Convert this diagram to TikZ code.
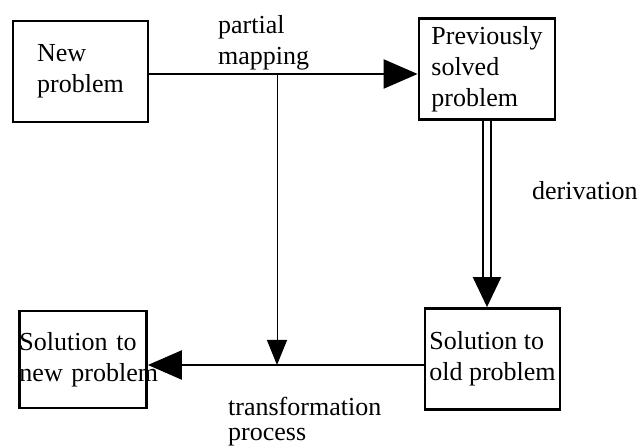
\documentclass[tikz,border=0pt]{standalone}
\usepackage{fontspec}
\setmainfont{Liberation Serif}
\usetikzlibrary{arrows.meta}
\begin{document}
\begin{tikzpicture}[x=1pt, y=1pt,
    every node/.style={font=\fontsize{26}{31}\selectfont},
    box/.style={draw, line width=2.8pt, align=left, inner sep=0pt,
        minimum width=135pt, minimum height=101pt},
    txt/.style={align=left, inner sep=0pt, anchor=north west},
    link/.style={line width=2.4pt, -{Triangle[length=34pt, width=29pt]}}]
        \useasboundingbox (0,0) rectangle (638,446);
        \node[box] (newp) at (80.5,374.5) {New\\problem};
        \node[box, minimum width=136pt] (prev) at (487,377) {Previously\\solved\\problem};
        \node[box] (oldsol) at (492.5,87) {Solution to\\old problem};
        \node[box, text width=127pt, minimum width=127pt, minimum height=97pt] (newsol)
        at (83,86.5) {Solution to\\\mbox{new problem}};
        \coordinate (split) at (277,372);
        \coordinate (join) at (277,81);
        \draw[link] (newp.east|-split) -- (prev.west|-split);
        \draw[line width=1pt, -{Triangle[length=25pt, width=20pt]}] (split) -- (join);
        \draw[link] (oldsol.west|-join) -- (newsol.east|-join);
        \draw[double, double distance=6pt, line width=2.2pt,
        -{Triangle[length=30pt, width=28pt]}] (prev.south) -- (prev.south|-oldsol.north);
        \node[txt] (mapping) at (218,431) {partial\\mapping};
        \node[txt] (deriv) at (532,265) {derivation};
        \node[txt] (transf) at (228,49) {transformation\\[-6pt]process};
    \end{tikzpicture}
\end{document}
